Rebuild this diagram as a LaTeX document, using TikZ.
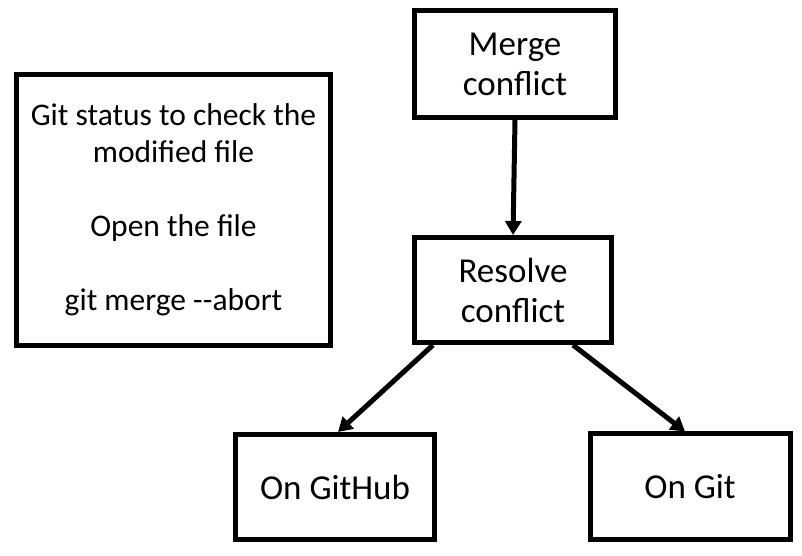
\documentclass[tikz,border=0pt]{standalone}
\usepackage{fontspec}
\setmainfont{Carlito}
\usepackage{tikz}
\usetikzlibrary{positioning, arrows.meta}

\tikzset{
  stepbox/.style={draw, line width=5pt, align=center, inner sep=0pt,
                  font=\fontsize{35}{40}\selectfont},
  flow/.style={line width=5pt, -{Triangle[length=14pt,width=16pt]}}
}

\begin{document}
\begin{tikzpicture}[x=1pt, y=1pt]
\useasboundingbox (0,0) rectangle (802,556);
%
\node [stepbox, minimum width=201pt, minimum height=107pt] (merge) at (515,492) {Merge\\conflict};
\node [stepbox, minimum width=197pt, minimum height=105pt] (resolve) at (513,266) {Resolve\\conflict};
\node [stepbox, minimum width=199pt, minimum height=105pt] (github) at (335,69) {On GitHub};
\node [stepbox, minimum width=200pt, minimum height=106pt] (git) at (690,69) {On Git};
%
\node [stepbox, minimum width=314pt, minimum height=271pt,
       font=\fontsize{31.5}{37}\selectfont] (info) at (173.5,346)
  {Git status to check the\\modified file\\[37pt]Open the file\\[37pt]git merge -{}-abort};

\draw [flow] (merge.south) -- (resolve.north);
\draw [flow] ([xshift=-80pt]resolve.south) -- ([xshift=3pt]github.north);
\draw [flow] ([xshift=60pt]resolve.south) -- ([xshift=-5pt]git.north);
%
\end{tikzpicture}
\end{document}
